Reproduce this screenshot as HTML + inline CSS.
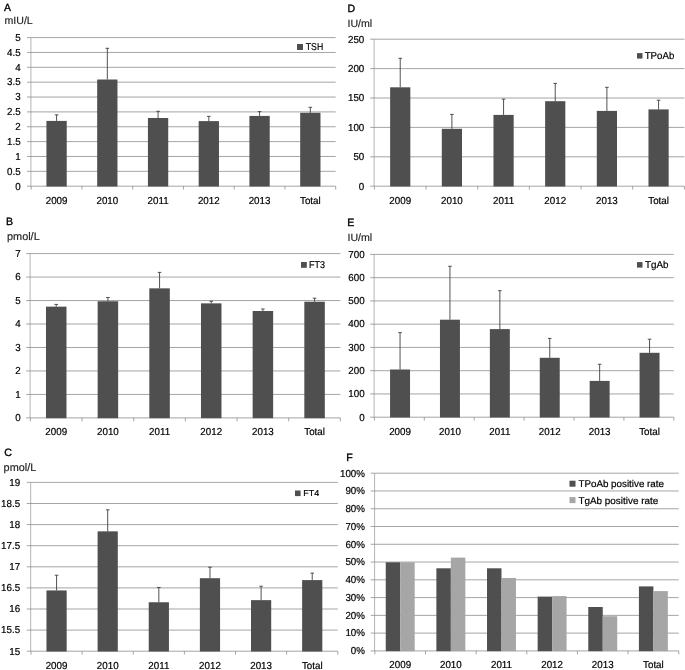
<!DOCTYPE html>
<html lang="en">
<head>
<meta charset="utf-8">
<title>Thyroid function and antibody levels by year</title>
<style>
html,body{margin:0;padding:0;background:#fff;}
body{width:685px;height:670px;overflow:hidden;}
svg{display:block;text-rendering:geometricPrecision;font-family:"Liberation Sans",sans-serif;}
</style>
</head>
<body>
<svg width="685" height="670" viewBox="0 0 685 670">
<rect width="685" height="670" fill="#fff"/>
<g>
<path d="M30.9 37.6V186.2" stroke="#b4b4b4" stroke-width="1" fill="none"/>
<path d="M27 186.2H335.7M27 171.34H335.7M27 156.48H335.7M27 141.62H335.7M27 126.76H335.7M27 111.9H335.7M27 97.04H335.7M27 82.18H335.7M27 67.32H335.7M27 52.46H335.7M27 37.6H335.7M31.2 186.2V189.6M81.95 186.2V189.6M132.7 186.2V189.6M183.45 186.2V189.6M234.2 186.2V189.6M284.95 186.2V189.6M335.7 186.2V189.6" stroke="#8e8e8e" stroke-width="0.8" fill="none"/>
<rect x="46.43" y="120.91" width="20.3" height="65.59" fill="#4f4f4f"/>
<path d="M56.58 120.91V114.87M54.78 114.87H58.38" stroke="#404040" stroke-width="0.9" fill="none"/>
<rect x="97.17" y="79.51" width="20.3" height="106.99" fill="#4f4f4f"/>
<path d="M107.33 79.51V48.3M105.53 48.3H109.12" stroke="#404040" stroke-width="0.9" fill="none"/>
<rect x="147.92" y="117.99" width="20.3" height="68.51" fill="#4f4f4f"/>
<path d="M158.07 117.99V111.31M156.27 111.31H159.88" stroke="#404040" stroke-width="0.9" fill="none"/>
<rect x="198.67" y="121.11" width="20.3" height="65.39" fill="#4f4f4f"/>
<path d="M208.82 121.11V116.36M207.02 116.36H210.62" stroke="#404040" stroke-width="0.9" fill="none"/>
<rect x="249.42" y="115.91" width="20.3" height="70.59" fill="#4f4f4f"/>
<path d="M259.57 115.91V111.6M257.77 111.6H261.38" stroke="#404040" stroke-width="0.9" fill="none"/>
<rect x="300.18" y="112.79" width="20.3" height="73.71" fill="#4f4f4f"/>
<path d="M310.32 112.79V107.29M308.52 107.29H312.12" stroke="#404040" stroke-width="0.9" fill="none"/>
<text transform="translate(20.6,189.5) scale(0.97,1)" font-size="10.1" text-anchor="end" fill="#000" stroke="#000" stroke-width="0.2">0</text>
<text transform="translate(20.6,174.64) scale(0.97,1)" font-size="10.1" text-anchor="end" fill="#000" stroke="#000" stroke-width="0.2">0.5</text>
<text transform="translate(20.6,159.78) scale(0.97,1)" font-size="10.1" text-anchor="end" fill="#000" stroke="#000" stroke-width="0.2">1</text>
<text transform="translate(20.6,144.92) scale(0.97,1)" font-size="10.1" text-anchor="end" fill="#000" stroke="#000" stroke-width="0.2">1.5</text>
<text transform="translate(20.6,130.06) scale(0.97,1)" font-size="10.1" text-anchor="end" fill="#000" stroke="#000" stroke-width="0.2">2</text>
<text transform="translate(20.6,115.2) scale(0.97,1)" font-size="10.1" text-anchor="end" fill="#000" stroke="#000" stroke-width="0.2">2.5</text>
<text transform="translate(20.6,100.34) scale(0.97,1)" font-size="10.1" text-anchor="end" fill="#000" stroke="#000" stroke-width="0.2">3</text>
<text transform="translate(20.6,85.48) scale(0.97,1)" font-size="10.1" text-anchor="end" fill="#000" stroke="#000" stroke-width="0.2">3.5</text>
<text transform="translate(20.6,70.62) scale(0.97,1)" font-size="10.1" text-anchor="end" fill="#000" stroke="#000" stroke-width="0.2">4</text>
<text transform="translate(20.6,55.76) scale(0.97,1)" font-size="10.1" text-anchor="end" fill="#000" stroke="#000" stroke-width="0.2">4.5</text>
<text transform="translate(20.6,40.9) scale(0.97,1)" font-size="10.1" text-anchor="end" fill="#000" stroke="#000" stroke-width="0.2">5</text>
<text transform="translate(56.58,203.8) scale(0.97,1)" font-size="10.1" text-anchor="middle" fill="#000" stroke="#000" stroke-width="0.2">2009</text>
<text transform="translate(107.33,203.8) scale(0.97,1)" font-size="10.1" text-anchor="middle" fill="#000" stroke="#000" stroke-width="0.2">2010</text>
<text transform="translate(158.07,203.8) scale(0.97,1)" font-size="10.1" text-anchor="middle" fill="#000" stroke="#000" stroke-width="0.2">2011</text>
<text transform="translate(208.82,203.8) scale(0.97,1)" font-size="10.1" text-anchor="middle" fill="#000" stroke="#000" stroke-width="0.2">2012</text>
<text transform="translate(259.57,203.8) scale(0.97,1)" font-size="10.1" text-anchor="middle" fill="#000" stroke="#000" stroke-width="0.2">2013</text>
<text transform="translate(310.32,203.8) scale(0.97,1)" font-size="10.1" text-anchor="middle" fill="#000" stroke="#000" stroke-width="0.2">Total</text>
</g>
<rect x="297" y="44" width="6" height="6" fill="#4f4f4f"/>
<text x="305.8" y="50.2" font-size="10" textLength="17.4" lengthAdjust="spacingAndGlyphs" fill="#000" stroke="#000" stroke-width="0.2">TSH</text>
<text x="4" y="11.2" font-size="10.4" fill="#000" stroke="#000" stroke-width="0.35">A</text>
<text x="4.5" y="23.7" font-size="10.6" fill="#222" stroke="#222" stroke-width="0.15">mIU/L</text>
<g>
<path d="M30.1 253.6V417.9" stroke="#b4b4b4" stroke-width="1" fill="none"/>
<path d="M26.2 417.9H340.4M26.2 394.43H340.4M26.2 370.96H340.4M26.2 347.49H340.4M26.2 324.01H340.4M26.2 300.54H340.4M26.2 277.07H340.4M26.2 253.6H340.4M30.4 417.9V421.3M82.07 417.9V421.3M133.73 417.9V421.3M185.4 417.9V421.3M237.07 417.9V421.3M288.73 417.9V421.3M340.4 417.9V421.3" stroke="#8e8e8e" stroke-width="0.8" fill="none"/>
<rect x="45.98" y="306.65" width="20.5" height="111.55" fill="#4f4f4f"/>
<path d="M56.23 306.65V304.42M54.43 304.42H58.03" stroke="#404040" stroke-width="0.9" fill="none"/>
<rect x="97.65" y="301.25" width="20.5" height="116.95" fill="#4f4f4f"/>
<path d="M107.9 301.25V297.49M106.1 297.49H109.7" stroke="#404040" stroke-width="0.9" fill="none"/>
<rect x="149.32" y="288.34" width="20.5" height="129.86" fill="#4f4f4f"/>
<path d="M159.57 288.34V272.38M157.77 272.38H161.37" stroke="#404040" stroke-width="0.9" fill="none"/>
<rect x="200.98" y="303.36" width="20.5" height="114.84" fill="#4f4f4f"/>
<path d="M211.23 303.36V301.25M209.43 301.25H213.03" stroke="#404040" stroke-width="0.9" fill="none"/>
<rect x="252.65" y="310.99" width="20.5" height="107.21" fill="#4f4f4f"/>
<path d="M262.9 310.99V308.99M261.1 308.99H264.7" stroke="#404040" stroke-width="0.9" fill="none"/>
<rect x="304.32" y="301.72" width="20.5" height="116.48" fill="#4f4f4f"/>
<path d="M314.57 301.72V298.2M312.77 298.2H316.37" stroke="#404040" stroke-width="0.9" fill="none"/>
<text transform="translate(20.6,421.2) scale(0.97,1)" font-size="10.1" text-anchor="end" fill="#000" stroke="#000" stroke-width="0.2">0</text>
<text transform="translate(20.6,397.73) scale(0.97,1)" font-size="10.1" text-anchor="end" fill="#000" stroke="#000" stroke-width="0.2">1</text>
<text transform="translate(20.6,374.26) scale(0.97,1)" font-size="10.1" text-anchor="end" fill="#000" stroke="#000" stroke-width="0.2">2</text>
<text transform="translate(20.6,350.79) scale(0.97,1)" font-size="10.1" text-anchor="end" fill="#000" stroke="#000" stroke-width="0.2">3</text>
<text transform="translate(20.6,327.31) scale(0.97,1)" font-size="10.1" text-anchor="end" fill="#000" stroke="#000" stroke-width="0.2">4</text>
<text transform="translate(20.6,303.84) scale(0.97,1)" font-size="10.1" text-anchor="end" fill="#000" stroke="#000" stroke-width="0.2">5</text>
<text transform="translate(20.6,280.37) scale(0.97,1)" font-size="10.1" text-anchor="end" fill="#000" stroke="#000" stroke-width="0.2">6</text>
<text transform="translate(20.6,256.9) scale(0.97,1)" font-size="10.1" text-anchor="end" fill="#000" stroke="#000" stroke-width="0.2">7</text>
<text transform="translate(56.23,435.2) scale(0.97,1)" font-size="10.1" text-anchor="middle" fill="#000" stroke="#000" stroke-width="0.2">2009</text>
<text transform="translate(107.9,435.2) scale(0.97,1)" font-size="10.1" text-anchor="middle" fill="#000" stroke="#000" stroke-width="0.2">2010</text>
<text transform="translate(159.57,435.2) scale(0.97,1)" font-size="10.1" text-anchor="middle" fill="#000" stroke="#000" stroke-width="0.2">2011</text>
<text transform="translate(211.23,435.2) scale(0.97,1)" font-size="10.1" text-anchor="middle" fill="#000" stroke="#000" stroke-width="0.2">2012</text>
<text transform="translate(262.9,435.2) scale(0.97,1)" font-size="10.1" text-anchor="middle" fill="#000" stroke="#000" stroke-width="0.2">2013</text>
<text transform="translate(314.57,435.2) scale(0.97,1)" font-size="10.1" text-anchor="middle" fill="#000" stroke="#000" stroke-width="0.2">Total</text>
</g>
<rect x="301" y="262" width="5.8" height="5.8" fill="#4f4f4f"/>
<text x="309" y="268.1" font-size="10" textLength="16" lengthAdjust="spacingAndGlyphs" fill="#000" stroke="#000" stroke-width="0.2">FT3</text>
<text x="6" y="224.9" font-size="10.6" fill="#000" stroke="#000" stroke-width="0.35">B</text>
<text x="7" y="240.4" font-size="10.9" fill="#222" stroke="#222" stroke-width="0.15">pmol/L</text>
<g>
<path d="M30.7 482.4V651.2" stroke="#b4b4b4" stroke-width="1" fill="none"/>
<path d="M26.8 651.2H337.8M26.8 630.1H337.8M26.8 609H337.8M26.8 587.9H337.8M26.8 566.8H337.8M26.8 545.7H337.8M26.8 524.6H337.8M26.8 503.5H337.8M26.8 482.4H337.8M31 651.2V654.6M82.13 651.2V654.6M133.27 651.2V654.6M184.4 651.2V654.6M235.53 651.2V654.6M286.67 651.2V654.6M337.8 651.2V654.6" stroke="#8e8e8e" stroke-width="0.8" fill="none"/>
<rect x="46.47" y="590.43" width="20.2" height="61.07" fill="#4f4f4f"/>
<path d="M56.57 590.43V575.24M54.77 575.24H58.37" stroke="#404040" stroke-width="0.9" fill="none"/>
<rect x="97.6" y="531.35" width="20.2" height="120.15" fill="#4f4f4f"/>
<path d="M107.7 531.35V509.83M105.9 509.83H109.5" stroke="#404040" stroke-width="0.9" fill="none"/>
<rect x="148.73" y="602.25" width="20.2" height="49.25" fill="#4f4f4f"/>
<path d="M158.83 602.25V587.48M157.03 587.48H160.63" stroke="#404040" stroke-width="0.9" fill="none"/>
<rect x="199.87" y="578.19" width="20.2" height="73.31" fill="#4f4f4f"/>
<path d="M209.97 578.19V567.22M208.17 567.22H211.77" stroke="#404040" stroke-width="0.9" fill="none"/>
<rect x="251" y="600.14" width="20.2" height="51.36" fill="#4f4f4f"/>
<path d="M261.1 600.14V586.21M259.3 586.21H262.9" stroke="#404040" stroke-width="0.9" fill="none"/>
<rect x="302.13" y="580.09" width="20.2" height="71.41" fill="#4f4f4f"/>
<path d="M312.23 580.09V573.13M310.43 573.13H314.03" stroke="#404040" stroke-width="0.9" fill="none"/>
<text transform="translate(20.1,654.5) scale(0.97,1)" font-size="10.1" text-anchor="end" fill="#000" stroke="#000" stroke-width="0.2">15</text>
<text transform="translate(20.1,633.4) scale(0.97,1)" font-size="10.1" text-anchor="end" fill="#000" stroke="#000" stroke-width="0.2">15.5</text>
<text transform="translate(20.1,612.3) scale(0.97,1)" font-size="10.1" text-anchor="end" fill="#000" stroke="#000" stroke-width="0.2">16</text>
<text transform="translate(20.1,591.2) scale(0.97,1)" font-size="10.1" text-anchor="end" fill="#000" stroke="#000" stroke-width="0.2">16.5</text>
<text transform="translate(20.1,570.1) scale(0.97,1)" font-size="10.1" text-anchor="end" fill="#000" stroke="#000" stroke-width="0.2">17</text>
<text transform="translate(20.1,549) scale(0.97,1)" font-size="10.1" text-anchor="end" fill="#000" stroke="#000" stroke-width="0.2">17.5</text>
<text transform="translate(20.1,527.9) scale(0.97,1)" font-size="10.1" text-anchor="end" fill="#000" stroke="#000" stroke-width="0.2">18</text>
<text transform="translate(20.1,506.8) scale(0.97,1)" font-size="10.1" text-anchor="end" fill="#000" stroke="#000" stroke-width="0.2">18.5</text>
<text transform="translate(20.1,485.7) scale(0.97,1)" font-size="10.1" text-anchor="end" fill="#000" stroke="#000" stroke-width="0.2">19</text>
<text transform="translate(56.57,668.5) scale(0.97,1)" font-size="10.1" text-anchor="middle" fill="#000" stroke="#000" stroke-width="0.2">2009</text>
<text transform="translate(107.7,668.5) scale(0.97,1)" font-size="10.1" text-anchor="middle" fill="#000" stroke="#000" stroke-width="0.2">2010</text>
<text transform="translate(158.83,668.5) scale(0.97,1)" font-size="10.1" text-anchor="middle" fill="#000" stroke="#000" stroke-width="0.2">2011</text>
<text transform="translate(209.97,668.5) scale(0.97,1)" font-size="10.1" text-anchor="middle" fill="#000" stroke="#000" stroke-width="0.2">2012</text>
<text transform="translate(261.1,668.5) scale(0.97,1)" font-size="10.1" text-anchor="middle" fill="#000" stroke="#000" stroke-width="0.2">2013</text>
<text transform="translate(312.23,668.5) scale(0.97,1)" font-size="10.1" text-anchor="middle" fill="#000" stroke="#000" stroke-width="0.2">Total</text>
</g>
<rect x="295" y="490.5" width="5.6" height="5.6" fill="#4f4f4f"/>
<text x="303.3" y="496.3" font-size="8.7" textLength="16" lengthAdjust="spacingAndGlyphs" fill="#000" stroke="#000" stroke-width="0.2">FT4</text>
<text x="4.3" y="456.2" font-size="10.6" fill="#000" stroke="#000" stroke-width="0.35">C</text>
<text x="3.6" y="470.9" font-size="10.9" fill="#222" stroke="#222" stroke-width="0.15">pmol/L</text>
<g>
<path d="M374.1 39.2V186.2" stroke="#b4b4b4" stroke-width="1" fill="none"/>
<path d="M370.2 186.2H684.4M370.2 156.8H684.4M370.2 127.4H684.4M370.2 98H684.4M370.2 68.6H684.4M370.2 39.2H684.4M374.4 186.2V189.6M426.07 186.2V189.6M477.73 186.2V189.6M529.4 186.2V189.6M581.07 186.2V189.6M632.73 186.2V189.6M684.4 186.2V189.6" stroke="#8e8e8e" stroke-width="0.8" fill="none"/>
<rect x="390.13" y="87.3" width="20.2" height="99.2" fill="#4f4f4f"/>
<path d="M400.23 87.3V58.3M398.43 58.3H402.03" stroke="#404040" stroke-width="0.9" fill="none"/>
<rect x="441.8" y="128.8" width="20.2" height="57.7" fill="#4f4f4f"/>
<path d="M451.9 128.8V114.4M450.1 114.4H453.7" stroke="#404040" stroke-width="0.9" fill="none"/>
<rect x="493.47" y="114.9" width="20.2" height="71.6" fill="#4f4f4f"/>
<path d="M503.57 114.9V99.2M501.77 99.2H505.37" stroke="#404040" stroke-width="0.9" fill="none"/>
<rect x="545.13" y="101.2" width="20.2" height="85.3" fill="#4f4f4f"/>
<path d="M555.23 101.2V83.4M553.43 83.4H557.03" stroke="#404040" stroke-width="0.9" fill="none"/>
<rect x="596.8" y="110.9" width="20.2" height="75.6" fill="#4f4f4f"/>
<path d="M606.9 110.9V87.3M605.1 87.3H608.7" stroke="#404040" stroke-width="0.9" fill="none"/>
<rect x="648.47" y="109.4" width="20.2" height="77.1" fill="#4f4f4f"/>
<path d="M658.57 109.4V100.2M656.77 100.2H660.37" stroke="#404040" stroke-width="0.9" fill="none"/>
<text transform="translate(364.3,189.5) scale(0.97,1)" font-size="10.1" text-anchor="end" fill="#000" stroke="#000" stroke-width="0.2">0</text>
<text transform="translate(364.3,160.1) scale(0.97,1)" font-size="10.1" text-anchor="end" fill="#000" stroke="#000" stroke-width="0.2">50</text>
<text transform="translate(364.3,130.7) scale(0.97,1)" font-size="10.1" text-anchor="end" fill="#000" stroke="#000" stroke-width="0.2">100</text>
<text transform="translate(364.3,101.3) scale(0.97,1)" font-size="10.1" text-anchor="end" fill="#000" stroke="#000" stroke-width="0.2">150</text>
<text transform="translate(364.3,71.9) scale(0.97,1)" font-size="10.1" text-anchor="end" fill="#000" stroke="#000" stroke-width="0.2">200</text>
<text transform="translate(364.3,42.5) scale(0.97,1)" font-size="10.1" text-anchor="end" fill="#000" stroke="#000" stroke-width="0.2">250</text>
<text transform="translate(400.23,203.5) scale(0.97,1)" font-size="10.1" text-anchor="middle" fill="#000" stroke="#000" stroke-width="0.2">2009</text>
<text transform="translate(451.9,203.5) scale(0.97,1)" font-size="10.1" text-anchor="middle" fill="#000" stroke="#000" stroke-width="0.2">2010</text>
<text transform="translate(503.57,203.5) scale(0.97,1)" font-size="10.1" text-anchor="middle" fill="#000" stroke="#000" stroke-width="0.2">2011</text>
<text transform="translate(555.23,203.5) scale(0.97,1)" font-size="10.1" text-anchor="middle" fill="#000" stroke="#000" stroke-width="0.2">2012</text>
<text transform="translate(606.9,203.5) scale(0.97,1)" font-size="10.1" text-anchor="middle" fill="#000" stroke="#000" stroke-width="0.2">2013</text>
<text transform="translate(658.57,203.5) scale(0.97,1)" font-size="10.1" text-anchor="middle" fill="#000" stroke="#000" stroke-width="0.2">Total</text>
</g>
<rect x="637" y="53.1" width="5.5" height="5.5" fill="#4f4f4f"/>
<text x="644.7" y="59.3" font-size="10" textLength="29.6" lengthAdjust="spacingAndGlyphs" fill="#000" stroke="#000" stroke-width="0.2">TPoAb</text>
<text x="347.6" y="12.3" font-size="10.6" fill="#000" stroke="#000" stroke-width="0.35">D</text>
<text x="347.5" y="27.2" font-size="10.6" fill="#222" stroke="#222" stroke-width="0.15">IU/ml</text>
<g>
<path d="M374.1 254.4V417.2" stroke="#b4b4b4" stroke-width="1" fill="none"/>
<path d="M370.2 417.2H673.8M370.2 393.94H673.8M370.2 370.69H673.8M370.2 347.43H673.8M370.2 324.17H673.8M370.2 300.91H673.8M370.2 277.66H673.8M370.2 254.4H673.8M374.4 417.2V420.6M424.3 417.2V420.6M474.2 417.2V420.6M524.1 417.2V420.6M574 417.2V420.6M623.9 417.2V420.6M673.8 417.2V420.6" stroke="#8e8e8e" stroke-width="0.8" fill="none"/>
<rect x="390.07" y="369.5" width="19.96" height="48" fill="#4f4f4f"/>
<path d="M400.05 369.5V332.6M398.25 332.6H401.85" stroke="#404040" stroke-width="0.9" fill="none"/>
<rect x="439.97" y="319.7" width="19.96" height="97.8" fill="#4f4f4f"/>
<path d="M449.95 319.7V266.3M448.15 266.3H451.75" stroke="#404040" stroke-width="0.9" fill="none"/>
<rect x="489.87" y="329.1" width="19.96" height="88.4" fill="#4f4f4f"/>
<path d="M499.85 329.1V290.7M498.05 290.7H501.65" stroke="#404040" stroke-width="0.9" fill="none"/>
<rect x="539.77" y="357.8" width="19.96" height="59.7" fill="#4f4f4f"/>
<path d="M549.75 357.8V338.4M547.95 338.4H551.55" stroke="#404040" stroke-width="0.9" fill="none"/>
<rect x="589.67" y="380.9" width="19.96" height="36.6" fill="#4f4f4f"/>
<path d="M599.65 380.9V364.25M597.85 364.25H601.45" stroke="#404040" stroke-width="0.9" fill="none"/>
<rect x="639.57" y="352.8" width="19.96" height="64.7" fill="#4f4f4f"/>
<path d="M649.55 352.8V339.2M647.75 339.2H651.35" stroke="#404040" stroke-width="0.9" fill="none"/>
<text transform="translate(364.6,420.5) scale(0.97,1)" font-size="10.1" text-anchor="end" fill="#000" stroke="#000" stroke-width="0.2">0</text>
<text transform="translate(364.6,397.24) scale(0.97,1)" font-size="10.1" text-anchor="end" fill="#000" stroke="#000" stroke-width="0.2">100</text>
<text transform="translate(364.6,373.99) scale(0.97,1)" font-size="10.1" text-anchor="end" fill="#000" stroke="#000" stroke-width="0.2">200</text>
<text transform="translate(364.6,350.73) scale(0.97,1)" font-size="10.1" text-anchor="end" fill="#000" stroke="#000" stroke-width="0.2">300</text>
<text transform="translate(364.6,327.47) scale(0.97,1)" font-size="10.1" text-anchor="end" fill="#000" stroke="#000" stroke-width="0.2">400</text>
<text transform="translate(364.6,304.21) scale(0.97,1)" font-size="10.1" text-anchor="end" fill="#000" stroke="#000" stroke-width="0.2">500</text>
<text transform="translate(364.6,280.96) scale(0.97,1)" font-size="10.1" text-anchor="end" fill="#000" stroke="#000" stroke-width="0.2">600</text>
<text transform="translate(364.6,257.7) scale(0.97,1)" font-size="10.1" text-anchor="end" fill="#000" stroke="#000" stroke-width="0.2">700</text>
<text transform="translate(400.05,434.8) scale(0.97,1)" font-size="10.1" text-anchor="middle" fill="#000" stroke="#000" stroke-width="0.2">2009</text>
<text transform="translate(449.95,434.8) scale(0.97,1)" font-size="10.1" text-anchor="middle" fill="#000" stroke="#000" stroke-width="0.2">2010</text>
<text transform="translate(499.85,434.8) scale(0.97,1)" font-size="10.1" text-anchor="middle" fill="#000" stroke="#000" stroke-width="0.2">2011</text>
<text transform="translate(549.75,434.8) scale(0.97,1)" font-size="10.1" text-anchor="middle" fill="#000" stroke="#000" stroke-width="0.2">2012</text>
<text transform="translate(599.65,434.8) scale(0.97,1)" font-size="10.1" text-anchor="middle" fill="#000" stroke="#000" stroke-width="0.2">2013</text>
<text transform="translate(649.55,434.8) scale(0.97,1)" font-size="10.1" text-anchor="middle" fill="#000" stroke="#000" stroke-width="0.2">Total</text>
</g>
<rect x="637" y="262.1" width="5.5" height="5.5" fill="#4f4f4f"/>
<text x="645" y="268.1" font-size="10" textLength="23.5" lengthAdjust="spacingAndGlyphs" fill="#000" stroke="#000" stroke-width="0.2">TgAb</text>
<text x="347.3" y="226.2" font-size="10.6" fill="#000" stroke="#000" stroke-width="0.35">E</text>
<text x="347.5" y="241.2" font-size="10.6" fill="#222" stroke="#222" stroke-width="0.15">IU/ml</text>
<g>
<path d="M374.6 473.2V650.9" stroke="#b4b4b4" stroke-width="1" fill="none"/>
<path d="M370.7 650.9H678.7M370.7 633.13H678.7M370.7 615.36H678.7M370.7 597.59H678.7M370.7 579.82H678.7M370.7 562.05H678.7M370.7 544.28H678.7M370.7 526.51H678.7M370.7 508.74H678.7M370.7 490.97H678.7M370.7 473.2H678.7M374.9 650.9V654.3M425.53 650.9V654.3M476.17 650.9V654.3M526.8 650.9V654.3M577.43 650.9V654.3M628.07 650.9V654.3M678.7 650.9V654.3" stroke="#8e8e8e" stroke-width="0.8" fill="none"/>
<rect x="385.75" y="562.3" width="14.47" height="88.9" fill="#4f4f4f"/>
<rect x="400.22" y="562.3" width="14.47" height="88.9" fill="#a6a6a6"/>
<rect x="436.38" y="568.3" width="14.47" height="82.9" fill="#4f4f4f"/>
<rect x="450.85" y="557.6" width="14.47" height="93.6" fill="#a6a6a6"/>
<rect x="487.02" y="568.3" width="14.47" height="82.9" fill="#4f4f4f"/>
<rect x="501.48" y="578" width="14.47" height="73.2" fill="#a6a6a6"/>
<rect x="537.65" y="596.6" width="14.47" height="54.6" fill="#4f4f4f"/>
<rect x="552.12" y="596.1" width="14.47" height="55.1" fill="#a6a6a6"/>
<rect x="588.28" y="607" width="14.47" height="44.2" fill="#4f4f4f"/>
<rect x="602.75" y="616.2" width="14.47" height="35" fill="#a6a6a6"/>
<rect x="638.92" y="586.4" width="14.47" height="64.8" fill="#4f4f4f"/>
<rect x="653.38" y="591.1" width="14.47" height="60.1" fill="#a6a6a6"/>
<text transform="translate(365,654.2) scale(0.97,1)" font-size="10.1" text-anchor="end" fill="#000" stroke="#000" stroke-width="0.2">0%</text>
<text transform="translate(365,636.43) scale(0.97,1)" font-size="10.1" text-anchor="end" fill="#000" stroke="#000" stroke-width="0.2">10%</text>
<text transform="translate(365,618.66) scale(0.97,1)" font-size="10.1" text-anchor="end" fill="#000" stroke="#000" stroke-width="0.2">20%</text>
<text transform="translate(365,600.89) scale(0.97,1)" font-size="10.1" text-anchor="end" fill="#000" stroke="#000" stroke-width="0.2">30%</text>
<text transform="translate(365,583.12) scale(0.97,1)" font-size="10.1" text-anchor="end" fill="#000" stroke="#000" stroke-width="0.2">40%</text>
<text transform="translate(365,565.35) scale(0.97,1)" font-size="10.1" text-anchor="end" fill="#000" stroke="#000" stroke-width="0.2">50%</text>
<text transform="translate(365,547.58) scale(0.97,1)" font-size="10.1" text-anchor="end" fill="#000" stroke="#000" stroke-width="0.2">60%</text>
<text transform="translate(365,529.81) scale(0.97,1)" font-size="10.1" text-anchor="end" fill="#000" stroke="#000" stroke-width="0.2">70%</text>
<text transform="translate(365,512.04) scale(0.97,1)" font-size="10.1" text-anchor="end" fill="#000" stroke="#000" stroke-width="0.2">80%</text>
<text transform="translate(365,494.27) scale(0.97,1)" font-size="10.1" text-anchor="end" fill="#000" stroke="#000" stroke-width="0.2">90%</text>
<text transform="translate(365,476.5) scale(0.97,1)" font-size="10.1" text-anchor="end" fill="#000" stroke="#000" stroke-width="0.2">100%</text>
<text transform="translate(400.22,668.2) scale(0.97,1)" font-size="10.1" text-anchor="middle" fill="#000" stroke="#000" stroke-width="0.2">2009</text>
<text transform="translate(450.85,668.2) scale(0.97,1)" font-size="10.1" text-anchor="middle" fill="#000" stroke="#000" stroke-width="0.2">2010</text>
<text transform="translate(501.48,668.2) scale(0.97,1)" font-size="10.1" text-anchor="middle" fill="#000" stroke="#000" stroke-width="0.2">2011</text>
<text transform="translate(552.12,668.2) scale(0.97,1)" font-size="10.1" text-anchor="middle" fill="#000" stroke="#000" stroke-width="0.2">2012</text>
<text transform="translate(602.75,668.2) scale(0.97,1)" font-size="10.1" text-anchor="middle" fill="#000" stroke="#000" stroke-width="0.2">2013</text>
<text transform="translate(653.38,668.2) scale(0.97,1)" font-size="10.1" text-anchor="middle" fill="#000" stroke="#000" stroke-width="0.2">Total</text>
</g>
<rect x="569.5" y="480.7" width="6" height="6" fill="#4f4f4f"/>
<text x="578.4" y="487.1" font-size="9.8" textLength="85.6" lengthAdjust="spacingAndGlyphs" fill="#000" stroke="#000" stroke-width="0.2">TPoAb positive rate</text>
<rect x="569.5" y="497.1" width="6" height="6" fill="#a6a6a6"/>
<text x="578.4" y="503.8" font-size="9.8" textLength="79.9" lengthAdjust="spacingAndGlyphs" fill="#000" stroke="#000" stroke-width="0.2">TgAb positive rate</text>
<text x="346.2" y="460.5" font-size="10.6" fill="#000" stroke="#000" stroke-width="0.35">F</text>
</svg>
</body>
</html>
